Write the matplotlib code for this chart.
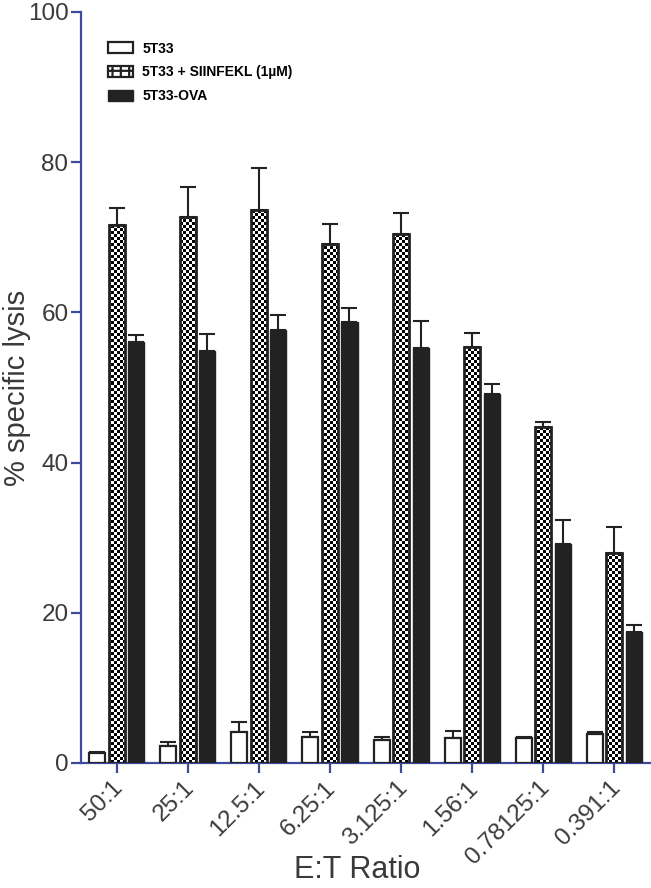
import matplotlib
matplotlib.use("Agg")
import matplotlib.pyplot as plt
import matplotlib.transforms as mtransforms
import numpy as np
from matplotlib.patches import Patch
from matplotlib.path import Path

# E:T ratios and % specific lysis (mean, upper SEM)
ratios = ['50:1', '25:1', '12.5:1', '6.25:1', '3.125:1', '1.56:1', '0.78125:1', '0.391:1']
plain = [1.3, 2.3, 4.1, 3.4, 3.0, 3.3, 3.3, 3.8]
plain_err = [0.1, 0.5, 1.3, 0.7, 0.4, 1.0, 0.2, 0.3]
peptide = [71.7, 72.7, 73.6, 69.1, 70.4, 55.4, 44.8, 27.9]
peptide_err = [2.2, 4.0, 5.6, 2.7, 2.8, 1.9, 0.6, 3.5]
ova = [56.1, 54.9, 57.6, 58.7, 55.3, 49.1, 29.1, 17.4]
ova_err = [0.9, 2.2, 2.0, 1.9, 3.5, 1.4, 3.3, 1.0]
series_names = ['5T33', '5T33 + SIINFEKL (1µM)', '5T33-OVA']

axis_blue = '#3b4a9c'
dark = '#222222'
text_col = '#3a3a3a'

plt.rcParams['font.family'] = ['Liberation Sans', 'DejaVu Sans']
plt.rcParams['hatch.linewidth'] = 1.6

fig = plt.figure(figsize=(6.51, 8.88), dpi=100)
ax = fig.add_axes([0.1244, 0.1408, 0.8741, 0.8457])

x = np.arange(len(ratios))
w = 0.225
off = 0.275
zeros = np.zeros(len(x))

# error bars (upper only), drawn behind the bars
for xs, vals, errs in [(x - off, plain, plain_err), (x, peptide, peptide_err), (x + off, ova, ova_err)]:
    ax.errorbar(xs, vals, yerr=[zeros, errs], fmt='none', ecolor=dark,
                elinewidth=1.5, capsize=5.5, capthick=1.5, zorder=1)

ax.bar(x - off, plain, w, facecolor='white', edgecolor=dark, linewidth=1.6, zorder=3)
chk = ax.bar(x, peptide, w, facecolor='none', edgecolor=dark, linewidth=2.0, zorder=4)
ax.bar(x + off, ova, w, facecolor=dark, edgecolor=dark, linewidth=1.0, zorder=3)

xlim = (-0.5, 7.5)
ylim = (0, 100)

# checkerboard texture clipped to the peptide bars
cols, rows = 190, 250
checker = (np.add.outer(np.arange(rows), np.arange(cols)) % 2).astype(float)
im = ax.imshow(checker, cmap='gray', interpolation='nearest', aspect='auto',
               extent=(xlim[0], xlim[1], ylim[0], ylim[1]), origin='lower', zorder=2)
paths = [r.get_path().transformed(r.get_patch_transform()) for r in chk]
im.set_clip_path(Path.make_compound_path(*paths), ax.transData)

ax.set_xlim(*xlim)
ax.set_ylim(*ylim)

for s in ['top', 'right']:
    ax.spines[s].set_visible(False)
for s in ['left', 'bottom']:
    ax.spines[s].set_color(axis_blue)
    ax.spines[s].set_linewidth(1.6)

ax.set_yticks([0, 20, 40, 60, 80, 100])
ax.set_xticks(x)
ax.set_xticklabels(ratios, rotation=45, ha='right', rotation_mode='anchor')
ax.tick_params(axis='both', colors=axis_blue, width=1.6, labelcolor=text_col)
ax.tick_params(axis='y', length=7, pad=2, labelsize=17.5)
ax.tick_params(axis='x', length=7, pad=3, labelsize=17.5)

# nudge rotated tick labels slightly left, as in the reference
shift = mtransforms.ScaledTranslation(-0.05, 0, fig.dpi_scale_trans)
for lab in ax.get_xticklabels():
    lab.set_transform(lab.get_transform() + shift)

ax.set_ylabel('% specific lysis', fontsize=21, color=text_col,
              family=['Liberation Sans Narrow', 'Liberation Sans'])
ax.yaxis.set_label_coords(-0.088, 0.5)
ax.set_xlabel('E:T Ratio', fontsize=22, color=text_col,
              family=['Liberation Sans Narrow', 'Liberation Sans'])
ax.xaxis.set_label_coords(0.485, -0.122)

handles = [Patch(facecolor='white', edgecolor=dark, linewidth=1.6),
           Patch(facecolor='white', edgecolor=dark, linewidth=1.6, hatch='++'),
           Patch(facecolor=dark, edgecolor=dark)]
ax.legend(handles, series_names, loc='upper left', bbox_to_anchor=(0.037, 0.968),
          frameon=False, borderaxespad=0, handlelength=1.8, handleheight=0.85,
          handletextpad=0.7, labelspacing=0.7, prop={'weight': 'bold', 'size': 10})

fig.savefig('out.png', dpi=100)
